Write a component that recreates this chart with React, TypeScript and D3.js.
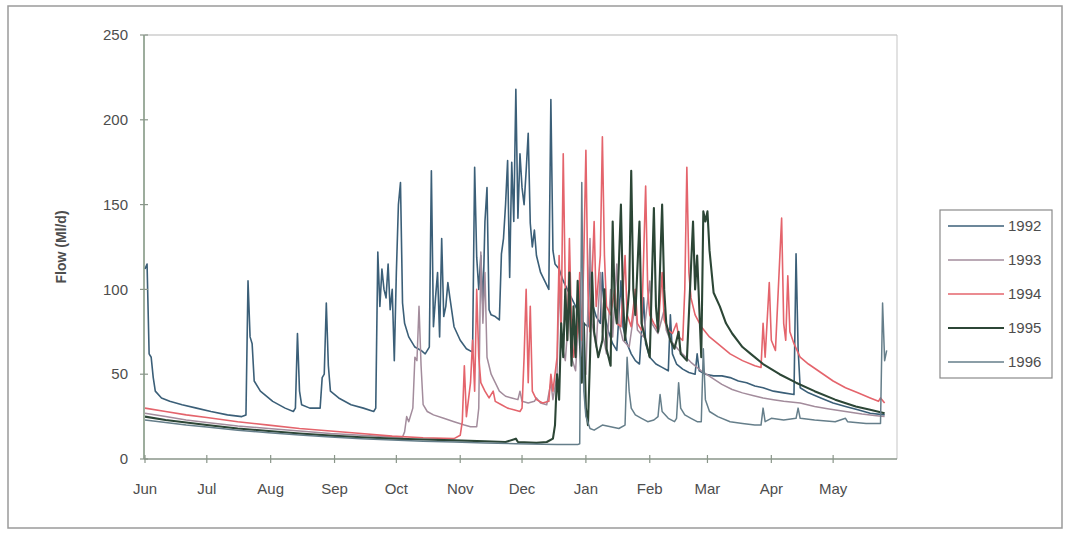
import React from "react";
import * as d3 from "d3";

// day offset from 1 June, flow in Ml/d
const flow1992: [number, number][] = [
  [0, 112], [1, 115], [2, 62], [3, 60], [4, 48], [5, 40], [8, 36], [12, 34], [18, 32], [25, 30], [32, 28], [40, 26], [47, 25],
  [49, 26], [50, 105], [51, 72], [52, 68], [53, 46], [56, 40], [62, 34], [68, 30], [72, 28], [73, 30], [74, 74], [75, 40],
  [76, 32], [80, 30], [85, 30], [86, 48], [87, 50], [88, 92], [89, 55], [90, 40], [94, 36], [100, 32], [106, 30], [111, 28],
  [112, 30], [113, 122], [114, 90], [115, 112], [116, 100], [117, 95], [118, 115], [119, 88], [120, 100], [121, 58],
  [122, 110], [123, 150], [124, 163], [125, 92], [126, 80], [128, 72], [131, 66], [134, 64], [136, 62], [138, 66],
  [139, 170], [140, 78], [141, 95], [142, 110], [143, 72], [144, 130], [145, 84], [146, 90], [147, 104], [148, 95],
  [150, 78], [153, 70], [156, 65], [159, 63], [160, 172], [161, 119], [162, 100], [163, 120], [164, 90], [165, 140],
  [166, 160], [167, 88], [168, 85], [170, 84], [172, 82], [173, 121], [174, 130], [175, 150], [176, 176], [177, 107],
  [178, 175], [179, 140], [180, 218], [181, 142], [182, 180], [183, 160], [184, 150], [185, 170], [186, 192], [187, 139],
  [188, 125], [189, 135], [190, 120], [192, 110], [194, 105], [196, 100], [197, 212], [198, 123], [199, 115], [201, 112],
  [203, 105], [205, 100], [207, 95], [209, 90], [211, 85], [213, 80], [215, 78], [216, 120], [217, 92], [219, 84],
  [221, 80], [222, 110], [223, 85], [225, 75], [227, 68], [229, 64], [231, 105], [232, 78], [234, 68], [236, 62],
  [238, 58], [240, 56], [242, 95], [243, 68], [245, 60], [248, 56], [251, 54], [254, 52], [255, 85], [256, 62], [258, 56],
  [261, 53], [264, 51], [267, 50], [268, 62], [269, 52], [272, 50], [276, 49], [280, 49], [284, 48], [288, 46], [292, 45],
  [296, 43], [300, 42], [305, 40], [310, 39], [315, 38], [316, 121], [317, 65], [318, 42], [322, 39], [328, 36], [334, 33],
  [340, 31], [346, 29], [352, 27], [359, 26],
];

const flow1993: [number, number][] = [
  [0, 27], [10, 25], [20, 23], [30, 21.5], [45, 19.5], [60, 18], [75, 16.5], [90, 15], [105, 14], [120, 13], [125, 13],
  [126, 16], [127, 25], [128, 22], [130, 30], [131, 60], [132, 58], [133, 90], [134, 55], [135, 32], [137, 28], [140, 26],
  [145, 24], [150, 22], [155, 20], [158, 19], [161, 19], [162, 30], [163, 122], [164, 80], [165, 110], [166, 60],
  [168, 50], [170, 45], [172, 40], [175, 37], [178, 36], [181, 35], [182, 40], [183, 34], [186, 33], [189, 34], [190, 36],
  [192, 33], [195, 32], [197, 45], [198, 35], [200, 50], [201, 110], [202, 70], [204, 58], [206, 90], [207, 60], [209, 52],
  [211, 95], [212, 62], [214, 50], [216, 130], [217, 80], [219, 66], [221, 110], [222, 75], [224, 62], [226, 100],
  [227, 72], [229, 115], [230, 80], [232, 70], [235, 66], [238, 92], [239, 76], [242, 72], [245, 105], [246, 80], [249, 74],
  [252, 88], [253, 76], [255, 70], [260, 63], [265, 57], [270, 52], [275, 48], [280, 44], [285, 41], [290, 39], [295, 37.5],
  [300, 36], [305, 35], [310, 34], [318, 33], [325, 31], [332, 29.5], [340, 28], [348, 26.5], [355, 25.5], [359, 25],
];

const flow1994: [number, number][] = [
  [0, 30], [10, 28], [20, 26], [30, 24.5], [45, 22], [60, 20], [75, 18], [90, 16.5], [105, 15], [120, 13.5], [135, 12.5],
  [150, 12], [153, 14], [154, 22], [155, 55], [156, 25], [158, 45], [159, 70], [160, 40], [161, 100], [162, 60], [163, 45],
  [165, 40], [167, 36], [169, 40], [170, 34], [173, 32], [176, 30], [179, 29], [182, 28], [183, 30], [184, 60], [185, 100],
  [186, 45], [187, 90], [188, 40], [190, 35], [193, 33], [196, 34], [197, 50], [198, 40], [200, 60], [201, 120], [202, 75],
  [203, 180], [204, 100], [205, 70], [206, 130], [207, 80], [208, 60], [210, 75], [211, 110], [212, 70], [213, 120],
  [214, 182], [215, 100], [216, 75], [218, 140], [219, 90], [221, 120], [222, 190], [223, 120], [224, 90], [226, 85],
  [228, 100], [229, 80], [231, 78], [233, 120], [234, 85], [236, 78], [238, 100], [239, 80], [241, 76], [243, 161],
  [244, 100], [245, 85], [247, 80], [249, 76], [251, 110], [252, 82], [254, 76], [256, 74], [258, 80], [259, 72], [261, 70],
  [262, 100], [263, 172], [264, 110], [265, 95], [267, 85], [270, 78], [274, 72], [278, 68], [284, 62], [290, 58],
  [296, 55], [299, 54], [300, 80], [301, 60], [303, 104], [304, 70], [306, 64], [309, 142], [310, 80], [311, 70],
  [312, 108], [313, 75], [315, 68], [318, 60], [322, 56], [328, 51], [334, 46], [340, 42], [346, 39], [352, 36], [356, 34],
  [357, 36], [359, 33],
];

const flow1995: [number, number][] = [
  [0, 25], [10, 23], [20, 21.5], [30, 20], [45, 18], [60, 16.5], [75, 15], [90, 13.8], [105, 12.8], [120, 12], [135, 11.5],
  [150, 11], [165, 10.5], [175, 10], [180, 12], [181, 10], [190, 9.5], [195, 10], [198, 12], [199, 20], [200, 50],
  [201, 35], [202, 80], [203, 60], [204, 100], [205, 70], [206, 110], [207, 55], [208, 90], [209, 60], [210, 105],
  [211, 70], [212, 45], [213, 80], [214, 30], [215, 20], [216, 60], [217, 110], [218, 75], [220, 60], [222, 70], [223, 100],
  [224, 65], [226, 55], [227, 140], [228, 90], [229, 80], [231, 150], [232, 95], [233, 70], [235, 100], [236, 170],
  [237, 100], [238, 85], [240, 140], [241, 80], [243, 70], [245, 60], [247, 148], [248, 90], [249, 75], [251, 150],
  [252, 100], [253, 80], [255, 70], [257, 65], [259, 75], [260, 62], [263, 58], [266, 140], [267, 100], [268, 120],
  [270, 60], [271, 146], [272, 140], [273, 146], [274, 123], [276, 98], [279, 90], [282, 80], [285, 74], [290, 66],
  [294, 62], [300, 56], [308, 50], [316, 45], [325, 40], [335, 35], [345, 31], [352, 29], [359, 27],
];

const flow1996: [number, number][] = [
  [0, 23], [10, 21.5], [20, 20], [30, 18.8], [45, 17], [60, 15.5], [75, 14.2], [90, 13], [105, 12], [120, 11.2], [135, 10.5],
  [150, 10], [165, 9.5], [180, 9], [200, 8.6], [210, 8.5], [211, 9], [212, 163], [213, 40], [214, 25], [216, 18], [218, 17],
  [222, 20], [226, 19], [230, 18], [233, 20], [234, 60], [235, 40], [236, 30], [238, 26], [241, 24], [244, 22], [247, 23],
  [249, 25], [250, 38], [251, 28], [254, 24], [257, 22], [258, 24], [259, 45], [260, 30], [262, 26], [265, 24], [268, 22],
  [270, 22], [271, 65], [272, 35], [274, 28], [278, 25], [284, 22], [290, 21], [296, 20], [299, 20], [300, 30], [301, 22],
  [304, 24], [310, 23], [316, 24], [317, 30], [318, 24], [325, 23], [335, 22], [340, 24], [341, 22], [350, 21], [357, 21],
  [358, 92], [359, 58], [360, 64],
];

const years = ["1992", "1993", "1994", "1995", "1996"];
const seriesData = [flow1992, flow1993, flow1994, flow1995, flow1996];
const colors = ["#3b5f78", "#a38c9c", "#e4646c", "#2c4636", "#657e8a"];
const widths = [1.6, 1.5, 1.6, 2.1, 1.5];
const yTicks = [0, 50, 100, 150, 200, 250];

const start = new Date(1992, 5, 1);
const end = new Date(1993, 5, 1);
const months = d3.timeMonth.range(start, end);

const App = () => {
  const left = 145, right = 897, top = 35, bottom = 459;
  const x = d3.scaleTime().domain([start, end]).range([left, right]);
  const y = d3.scaleLinear().domain([0, 250]).range([bottom, top]);
  const line = d3
    .line<[number, number]>()
    .x((d) => x(d3.timeDay.offset(start, d[0])))
    .y((d) => y(d[1]));
  const fmt = d3.timeFormat("%b");
  const font = "Arial, 'Liberation Sans', sans-serif";

  return (
    <svg width={1070} height={533} style={{ position: "absolute", left: 0, top: 0, background: "#fff" }}>
      <rect x={8} y={6} width={1054} height={522} fill="#fff" stroke="#9a9a9a" strokeWidth={1.5} />
      {/* plot frame */}
      <line x1={left} x2={right} y1={top} y2={top} stroke="#b5b5b5" />
      <line x1={right} x2={right} y1={top} y2={bottom} stroke="#c5c5c5" />
      {seriesData.map((s, i) => (
        <path key={years[i]} d={line(s) || ""} fill="none" stroke={colors[i]} strokeWidth={widths[i]} strokeLinejoin="round" />
      ))}
      {/* axes */}
      <line x1={left - 1} x2={left - 1} y1={top} y2={bottom} stroke="#7d927d" strokeWidth={1.5} />
      <line x1={left - 1} x2={right} y1={bottom} y2={bottom} stroke="#8a968a" strokeWidth={1.5} />
      {yTicks.map((t) => (
        <g key={t}>
          <line x1={left - 5} x2={left + 3} y1={y(t)} y2={y(t)} stroke="#8a968a" strokeWidth={1.2} />
          <text x={128} y={y(t)} dy="0.35em" textAnchor="end" fontFamily={font} fontSize={15} fill="#4d4d4d">
            {t}
          </text>
        </g>
      ))}
      {months.map((m) => (
        <g key={m.getTime()}>
          <line x1={x(m)} x2={x(m)} y1={bottom - 4} y2={bottom + 4} stroke="#8a968a" strokeWidth={1.2} />
          <text x={x(m)} y={bottom + 35} textAnchor="middle" fontFamily={font} fontSize={15} fill="#4d4d4d">
            {fmt(m)}
          </text>
        </g>
      ))}
      <text
        transform={`translate(66,${(top + bottom) / 2}) rotate(-90)`}
        textAnchor="middle"
        fontFamily={font}
        fontSize={14}
        fontWeight="bold"
        fill="#4d4d4d"
      >
        Flow (Ml/d)
      </text>
      {/* legend */}
      <rect x={940} y={210} width={112} height={168} fill="#fff" stroke="#8a8a8a" strokeWidth={1.2} />
      {years.map((yr, i) => (
        <g key={yr} transform={`translate(0,${226 + i * 34})`}>
          <line x1={948} x2={1004} y1={0} y2={0} stroke={colors[i]} strokeWidth={widths[i]} />
          <text x={1008} y={0} dy="0.35em" fontFamily={font} fontSize={15} fill="#4d4d4d">
            {yr}
          </text>
        </g>
      ))}
    </svg>
  );
};

export default App;
